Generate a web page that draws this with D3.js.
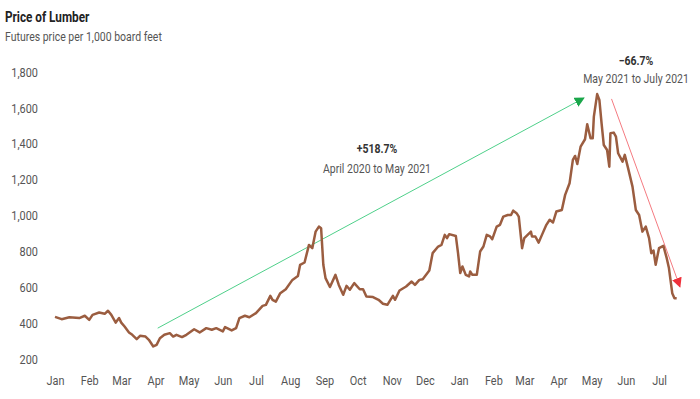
<!DOCTYPE html>
<html lang="en">
<head>
<meta charset="UTF-8">
<title>Price of Lumber</title>
<script src="https://d3js.org/d3.v7.min.js"></script>
<style>
    body { margin: 0; background: #fff; }
    svg text { font-family: Roboto, "Liberation Sans", sans-serif; }
    .title { font-size: 14px; font-weight: bold; fill: #222; }
    .subtitle { font-size: 12.5px; fill: #555; }
    .axis text { font-size: 13px; fill: #555; }
    .note-big { font-size: 12.5px; font-weight: bold; fill: #333; }
    .note-small { font-size: 12.5px; fill: #555; }
</style>
</head>
<body>
<script>
// lumber futures
const dates = [
    "2020-01-01","2020-01-07","2020-01-14","2020-01-23","2020-01-28","2020-02-01","2020-02-04","2020-02-10",
    "2020-02-15","2020-02-18","2020-02-21","2020-02-25","2020-02-28","2020-03-01","2020-03-04","2020-03-08",
    "2020-03-11","2020-03-15","2020-03-18","2020-03-23","2020-03-26","2020-03-30","2020-04-02","2020-04-05",
    "2020-04-09","2020-04-14","2020-04-17","2020-04-20","2020-04-25","2020-04-29","2020-05-06","2020-05-11",
    "2020-05-17","2020-05-22","2020-05-26","2020-06-01","2020-06-03","2020-06-09","2020-06-13","2020-06-16",
    "2020-06-21","2020-06-25","2020-07-01","2020-07-07","2020-07-10","2020-07-14","2020-07-16","2020-07-19",
    "2020-07-23","2020-07-28","2020-08-03","2020-08-08","2020-08-10","2020-08-14","2020-08-18","2020-08-21",
    "2020-08-24","2020-08-27","2020-08-29","2020-08-31","2020-09-02","2020-09-06","2020-09-11","2020-09-14",
    "2020-09-18","2020-09-21","2020-09-24","2020-09-28","2020-10-03","2020-10-06","2020-10-09","2020-10-15",
    "2020-10-20","2020-10-24","2020-10-28","2020-11-02","2020-11-04","2020-11-08","2020-11-14","2020-11-19",
    "2020-11-22","2020-11-26","2020-11-29","2020-12-05","2020-12-08","2020-12-13","2020-12-16","2020-12-19",
    "2020-12-21","2020-12-23","2020-12-29","2020-12-31","2021-01-02","2021-01-04","2021-01-07","2021-01-10",
    "2021-01-11","2021-01-13","2021-01-17","2021-01-20","2021-01-23","2021-01-26","2021-01-29","2021-01-31",
    "2021-02-04","2021-02-07","2021-02-10","2021-02-14","2021-02-17","2021-02-19","2021-02-22","2021-02-24",
    "2021-02-27","2021-03-01","2021-03-04","2021-03-07","2021-03-08","2021-03-11","2021-03-14","2021-03-17",
    "2021-03-21","2021-03-24","2021-03-27","2021-03-30","2021-04-04","2021-04-07","2021-04-11","2021-04-14",
    "2021-04-16","2021-04-18","2021-04-21","2021-04-25","2021-04-27","2021-04-30","2021-05-02","2021-05-03",
    "2021-05-06","2021-05-08","2021-05-10","2021-05-12","2021-05-15","2021-05-17","2021-05-18","2021-05-21",
    "2021-05-23","2021-05-25","2021-05-29","2021-05-31","2021-06-03","2021-06-07","2021-06-10","2021-06-13",
    "2021-06-16","2021-06-19","2021-06-22","2021-06-24","2021-06-26","2021-06-28","2021-07-01","2021-07-05",
    "2021-07-08","2021-07-10","2021-07-13","2021-07-15","2021-07-17"
];
const prices = [
    435, 422, 433, 428, 441, 418, 446, 459,
    452, 469, 446, 403, 428, 403, 381, 348,
    335, 311, 329, 325, 307, 270, 279, 316,
    335, 344, 325, 335, 322, 335, 366, 348,
    372, 363, 372, 354, 378, 359, 372, 428,
    441, 433, 456, 496, 502, 552, 530, 520,
    567, 589, 641, 663, 725, 738, 836, 818,
    910, 938, 929, 725, 651, 601, 669, 613,
    558, 608, 586, 623, 589, 589, 548, 545,
    530, 508, 502, 552, 530, 582, 604, 632,
    613, 641, 645, 693, 790, 827, 836, 892,
    874, 896, 886, 790, 679, 716, 669, 660,
    688, 669, 669, 799, 827, 892, 883, 868,
    938, 948, 994, 1003, 1003, 1027, 1013, 994,
    818, 874, 892, 910, 883, 883, 849, 892,
    948, 976, 961, 1022, 1031, 1115, 1180, 1310,
    1332, 1287, 1384, 1425, 1509, 1431, 1431, 1551,
    1677, 1644, 1514, 1393, 1365, 1272, 1458, 1462,
    1440, 1347, 1300, 1338, 1264, 1161, 1031, 1003,
    910, 938, 874, 790, 805, 725, 818, 831,
    762, 707, 567, 539, 539
];

const yTicks = [200, 400, 600, 800, 1000, 1200, 1400, 1600, 1800];

// arrows: [start date, start value, end date, end value]
const riseArrow = ["2020-04-03", 372, "2021-04-24", 1655];
const fallArrow = ["2021-05-19", 1650, "2021-07-20", 602];
const riseText = ["+518.7%", "April 2020 to May 2021"];
const fallText = ["\u221266.7%", "May 2021 to July 2021"];

const width = 700;
const height = 399;
const squeeze = "scale(0.84,1)"; // no condensed face installed, narrow the glyphs by hand
const parse = d3.timeParse("%Y-%m-%d");

const data = dates.map((d, i) => ({date: parse(d), value: prices[i]}));

const x = d3.scaleTime()
    .domain([parse("2020-01-01"), parse("2021-07-01")])
    .range([55, 659]);

const y = d3.scaleLinear()
    .domain([200, 1800])
    .range([359, 72]);

const svg = d3.select("body")
    .append("svg")
    .attr("width", width)
    .attr("height", height);

function label(cls, tx, ty, str, anchor) {
    return svg.append("text")
        .attr("class", cls)
        .attr("transform", `translate(${tx},${ty}) ${squeeze}`)
        .attr("text-anchor", anchor || "start")
        .text(str);
}

label("title", 5, 22, "Price of Lumber");
label("subtitle", 5, 41, "Futures price per 1,000 board feet");

// y axis
const yAxis = svg.append("g")
    .attr("class", "axis")
    .attr("transform", "translate(38,0)")
    .call(d3.axisLeft(y).tickValues(yTicks).tickSize(0).tickPadding(0).tickFormat(d3.format(",")));
yAxis.select(".domain").remove();
yAxis.selectAll("text").attr("transform", squeeze);

// x axis, one label per month start
const months = d3.timeMonth.range(parse("2020-01-01"), parse("2021-07-02"));
const xAxis = svg.append("g")
    .attr("class", "axis")
    .attr("transform", "translate(0,372)")
    .call(d3.axisBottom(x).tickValues(months).tickSize(0).tickPadding(4).tickFormat(d3.timeFormat("%b")));
xAxis.select(".domain").remove();
xAxis.selectAll("text").attr("transform", squeeze);

// arrows
const defs = svg.append("defs");
function marker(id, color) {
    defs.append("marker")
        .attr("id", id)
        .attr("viewBox", "0 0 10 10")
        .attr("refX", 9).attr("refY", 5)
        .attr("markerWidth", 10).attr("markerHeight", 10)
        .attr("markerUnits", "userSpaceOnUse")
        .attr("orient", "auto")
        .append("path")
        .attr("d", "M0,0L10,5L0,10Z")
        .attr("fill", color);
}
marker("head-green", "#1aa64a");
marker("head-red", "#f0303a");

function arrow(a, color, id) {
    svg.append("line")
        .attr("x1", x(parse(a[0]))).attr("y1", y(a[1]))
        .attr("x2", x(parse(a[2]))).attr("y2", y(a[3]))
        .attr("stroke", color)
        .attr("stroke-width", 1)
        .attr("marker-end", `url(#${id})`);
}
arrow(riseArrow, "#4fd08a", "head-green");
arrow(fallArrow, "#f47a80", "head-red");

// price line
svg.append("path")
    .datum(data)
    .attr("fill", "none")
    .attr("stroke", "#9b5d40")
    .attr("stroke-width", 2.5)
    .attr("stroke-linejoin", "round")
    .attr("d", d3.line().x(d => x(d.date)).y(d => y(d.value)));

// annotations
label("note-big", 377, 153, riseText[0], "middle");
label("note-small", 377, 173, riseText[1], "middle");
label("note-big", 636, 65, fallText[0], "middle");
label("note-small", 636, 83, fallText[1], "middle");
</script>
</body>
</html>
